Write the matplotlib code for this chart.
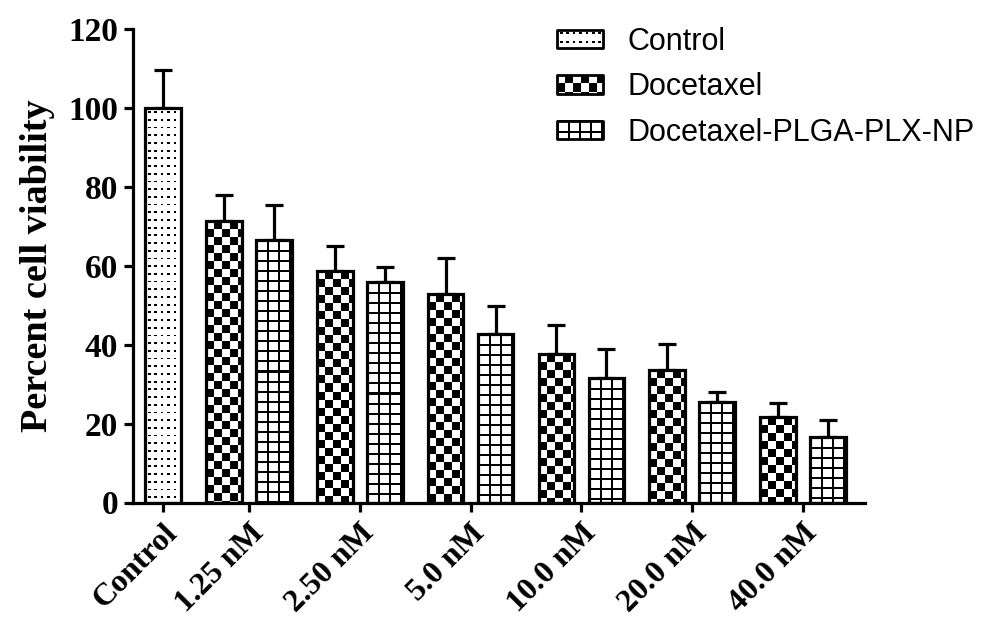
import numpy as np
import matplotlib
matplotlib.use("Agg")
import matplotlib.pyplot as plt
from matplotlib.image import BboxImage
from matplotlib.legend_handler import HandlerBase
from matplotlib.patches import Rectangle
from matplotlib.transforms import Bbox, TransformedBbox

# Cell viability (%), mean and upper SD per treatment
groups = ["1.25 nM", "2.50 nM", "5.0 nM", "10.0 nM", "20.0 nM", "40.0 nM"]
control_mean = 100.0
control_sd = 9.6
docetaxel_mean = [71.4, 58.6, 52.9, 37.7, 33.5, 21.7]
docetaxel_sd = [6.6, 6.3, 9.1, 7.4, 6.7, 3.6]
nano_mean = [66.4, 55.8, 42.8, 31.6, 25.5, 16.7]
nano_sd = [8.9, 3.8, 6.9, 7.3, 2.6, 4.1]
series_names = ["Control", "Docetaxel", "Docetaxel-PLGA-PLX-NP"]
fill_kinds = {"Control": "dots", "Docetaxel": "checker",
              "Docetaxel-PLGA-PLX-NP": "grid"}

SERIF = "Liberation Serif"
SANS = "Liberation Sans"
LW = 2.3


def pattern(kind, w, h):
    """Black/white fill pattern as an RGB array of w x h pixels."""
    img = np.ones((h, w))
    yy, xx = np.mgrid[0:h, 0:w]
    if kind == "dots":
        dash = ((xx + 4) % 6.4 < 2.6) & ((yy + 5) % 7.7 < 1.8)
        img[dash] = 0
    elif kind == "checker":
        img[((xx // 8) + (yy // 8)) % 2 == 1] = 0
    elif kind == "grid":
        img[(xx % 11 < 2) | (yy % 10 < 2)] = 0
    rgb = np.repeat(img[:, :, None], 3, axis=2)
    return (rgb * 255).astype(np.uint8)


def add_fill(ax, bar, kind):
    x0, y0 = bar.get_x(), bar.get_y()
    x1, y1 = x0 + bar.get_width(), y0 + bar.get_height()
    p0 = ax.transData.transform((x0, y0))
    p1 = ax.transData.transform((x1, y1))
    w = max(int(round(p1[0] - p0[0])), 1)
    h = max(int(round(p1[1] - p0[1])), 1)
    box = TransformedBbox(Bbox([[x0, y0], [x1, y1]]), ax.transData)
    im = BboxImage(box, interpolation="nearest", zorder=1.5)
    im.set_data(pattern(kind, w, h))
    ax.add_artist(im)


class PatternHandler(HandlerBase):
    def create_artists(self, legend, orig_handle, xdescent, ydescent,
                       width, height, fontsize, trans):
        kind = fill_kinds[orig_handle.get_label()]
        dpi = legend.get_figure(root=True).dpi
        w = int(round(width * dpi / 72))
        h = int(round(height * dpi / 72))
        box = TransformedBbox(
            Bbox.from_bounds(-xdescent, -ydescent, width, height), trans)
        im = BboxImage(box, interpolation="nearest")
        im.set_data(pattern(kind, w, h))
        edge = Rectangle((-xdescent, -ydescent), width, height,
                         facecolor="none", edgecolor="black", linewidth=2.0,
                         joinstyle="round", transform=trans)
        return [im, edge]


W, H = 1007, 624
fig = plt.figure(figsize=(W / 100, H / 100), dpi=100)
ax = fig.add_axes([132.5 / W, 1 - 502.5 / H, (865 - 132.5) / W,
                   (502.5 - 29) / H])

# group layout: one unit per concentration group, control set off to the left
bar_w = 0.322
offset = 0.2256
control_x = 0.224
group_x = np.arange(1, len(groups) + 1)

ax.set_xlim(-0.0514, 6.56)
ax.set_ylim(0, 120)

bars_c = ax.bar([control_x], [control_mean], width=bar_w, facecolor="none",
                edgecolor="black", linewidth=LW, zorder=2,
                label=series_names[0])
bars_d = ax.bar(group_x - offset, docetaxel_mean, width=bar_w,
                facecolor="none", edgecolor="black", linewidth=LW, zorder=2,
                label=series_names[1])
bars_n = ax.bar(group_x + offset, nano_mean, width=bar_w, facecolor="none",
                edgecolor="black", linewidth=LW, zorder=2,
                label=series_names[2])

for container, name in [(bars_c, series_names[0]), (bars_d, series_names[1]),
                        (bars_n, series_names[2])]:
    for b in container:
        add_fill(ax, b, fill_kinds[name])

err_kw = dict(fmt="none", ecolor="black", elinewidth=LW, capsize=6.8,
              capthick=LW, zorder=1)
ax.errorbar([control_x], [control_mean], yerr=[[0], [control_sd]], **err_kw)
ax.errorbar(group_x - offset, docetaxel_mean,
            yerr=[np.zeros(len(groups)), docetaxel_sd], **err_kw)
ax.errorbar(group_x + offset, nano_mean,
            yerr=[np.zeros(len(groups)), nano_sd], **err_kw)

for side in ["top", "right"]:
    ax.spines[side].set_visible(False)
for side in ["left", "bottom"]:
    ax.spines[side].set_linewidth(LW)

ax.set_yticks(np.arange(0, 121, 20))
ax.set_xticks(np.concatenate([[control_x], group_x]))
ax.set_xticklabels(["Control"] + groups, rotation=45, ha="right", va="top",
                   rotation_mode="anchor")
ax.tick_params(axis="both", width=LW, length=6.5, direction="out")
ax.tick_params(axis="y", pad=4)
ax.tick_params(axis="x", pad=5)
for lab in ax.get_yticklabels():
    lab.set_fontfamily(SERIF)
    lab.set_fontweight("bold")
    lab.set_fontsize(24)
for lab in ax.get_xticklabels():
    lab.set_fontfamily(SERIF)
    lab.set_fontweight("bold")
    lab.set_fontsize(23)

ax.set_ylabel("Percent cell viability", fontfamily=SERIF, fontweight="bold",
              fontsize=27.5)
ax.yaxis.set_label_coords(-0.106, 0.5)

handles = [bars_c, bars_d, bars_n]
hmap = {h: PatternHandler() for h in handles}
fig.legend(handles, series_names, loc="upper left",
           bbox_to_anchor=(557 / W, 1 - 27 / H), frameon=False,
           prop={"family": SANS, "size": 22}, handlelength=1.5,
           handleheight=0.55, handletextpad=0.82, labelspacing=0.5,
           borderpad=0, borderaxespad=0, handler_map=hmap)

fig.savefig("out.png", dpi=100)
